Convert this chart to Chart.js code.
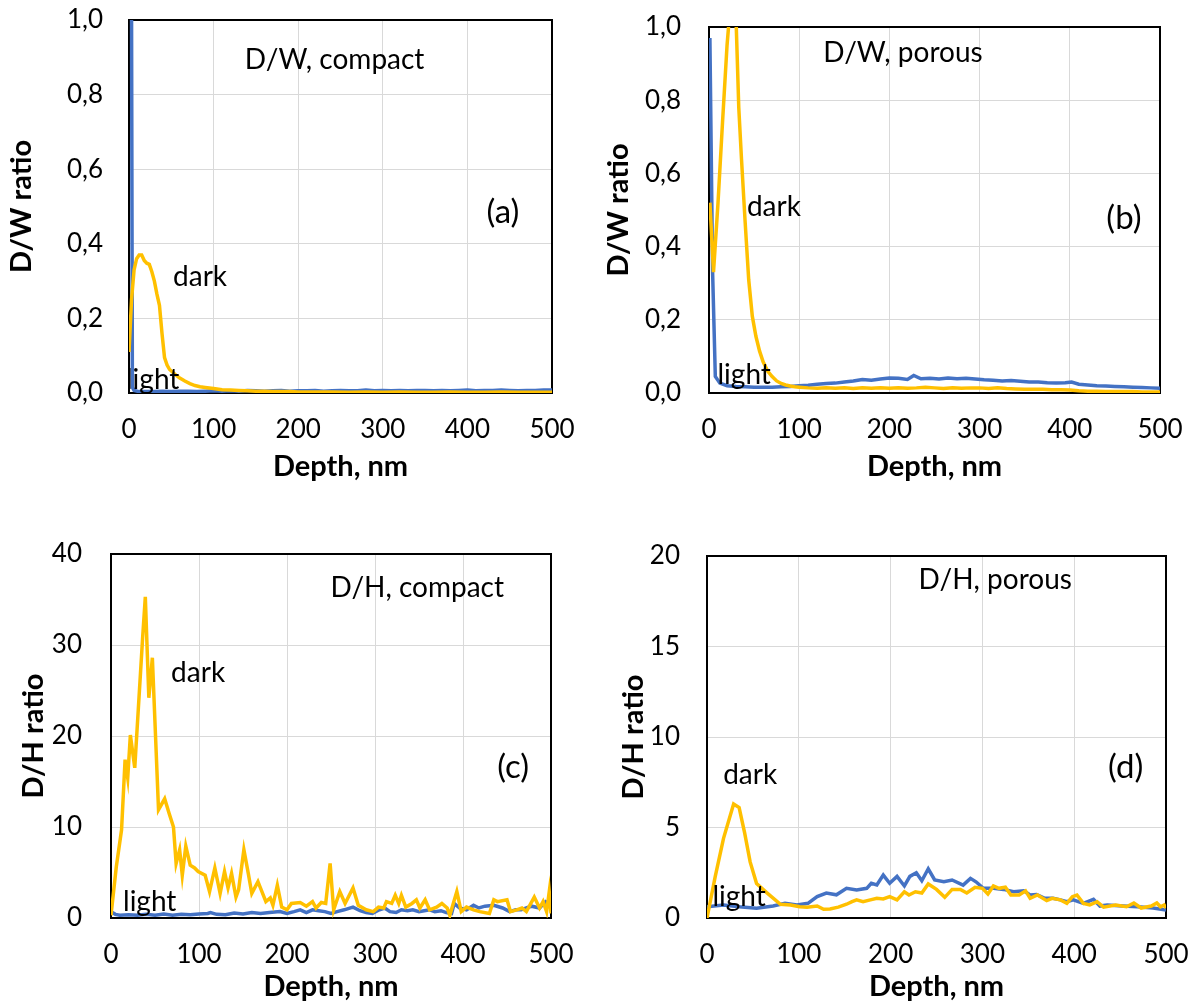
<!DOCTYPE html>
<html lang="en">
<head>
<meta charset="UTF-8">
<title>D/W and D/H ratio vs depth</title>
<script src="https://cdn.jsdelivr.net/npm/chart.js"></script>
<style>
  body{margin:0;background:#fff;}
  .panel{position:absolute;width:597px;height:501px;}
</style>
</head>
<body>
<div class="panel" style="left:0;top:0"><canvas id="chartA" width="597" height="501"></canvas></div>
<div class="panel" style="left:597px;top:0"><canvas id="chartB" width="597" height="501"></canvas></div>
<div class="panel" style="left:0;top:501px"><canvas id="chartC" width="597" height="501"></canvas></div>
<div class="panel" style="left:597px;top:501px"><canvas id="chartD" width="597" height="501"></canvas></div>
<script>
// ---- data (depth in nm) ----
// (a) D/W, compact
const aDarkDepth = [0,3,6,9,12,15,18,21,24,27,30,33,36,39,42,45,48,52,56,60,66,72,78,84,90,100,110,120,130,140,150,160,170,180,190,200,220,240,260,280,300,320,340,360,380,400,420,440,460,480,500];
const aDarkRatio = [0.11,0.25,0.33,0.36,0.37,0.37,0.355,0.348,0.345,0.325,0.3,0.265,0.235,0.16,0.095,0.075,0.063,0.055,0.047,0.04,0.032,0.025,0.02,0.017,0.015,0.012,0.009,0.008,0.007,0.006,0.005,0.005,0.004,0.004,0.004,0.003,0.003,0.003,0.002,0.003,0.002,0.003,0.002,0.002,0.003,0.002,0.002,0.003,0.002,0.002,0.002];
const aLightDepth = [3,4,6,10,20,30,40,50,60,70,80,90,100,110,120,130,140,150,160,170,180,190,200,210,220,230,240,250,260,270,280,290,300,310,320,330,340,350,360,370,380,390,400,410,420,430,440,450,460,470,480,490,500];
const aLightRatio = [1.02,0.015,0.007,0.005,0.004,0.004,0.005,0.004,0.005,0.005,0.004,0.005,0.006,0.005,0.006,0.005,0.007,0.006,0.005,0.006,0.007,0.005,0.006,0.006,0.007,0.005,0.006,0.007,0.006,0.006,0.008,0.006,0.007,0.006,0.007,0.006,0.007,0.007,0.006,0.007,0.006,0.007,0.008,0.006,0.007,0.007,0.008,0.007,0.006,0.007,0.007,0.008,0.008];

// (b) D/W, porous
const bDarkDepth = [1,5,10,15,20,25,30,33,36,40,44,48,52,56,60,65,70,75,80,85,90,95,100,110,120,130,140,150,160,170,180,190,200,210,220,230,240,250,260,270,280,290,300,310,320,330,340,350,360,370,380,390,400,410,420,430,440,450,460,470,480,490,500];
const bDarkRatio = [0.52,0.33,0.52,0.74,0.95,1.1,1.02,0.78,0.64,0.47,0.31,0.21,0.155,0.115,0.085,0.06,0.045,0.033,0.026,0.022,0.019,0.017,0.016,0.014,0.013,0.014,0.013,0.014,0.012,0.014,0.013,0.014,0.013,0.014,0.013,0.014,0.016,0.014,0.012,0.014,0.013,0.014,0.014,0.012,0.014,0.012,0.011,0.01,0.01,0.01,0.009,0.009,0.008,0.006,0.005,0.005,0.004,0.004,0.004,0.004,0.003,0.003,0.003];
const bLightDepth = [1,4,7,12,20,30,40,50,60,70,80,90,100,110,120,130,140,150,160,170,180,190,200,210,220,227,235,245,255,265,275,285,295,305,315,325,335,345,355,365,375,385,395,402,410,420,430,440,450,460,470,480,490,500];
const bLightRatio = [0.97,0.33,0.045,0.027,0.02,0.018,0.017,0.016,0.016,0.016,0.017,0.018,0.02,0.021,0.024,0.026,0.027,0.03,0.033,0.037,0.035,0.038,0.041,0.04,0.037,0.048,0.039,0.04,0.038,0.041,0.039,0.04,0.038,0.036,0.035,0.033,0.034,0.032,0.03,0.03,0.028,0.027,0.028,0.03,0.024,0.022,0.02,0.019,0.018,0.017,0.016,0.015,0.014,0.013];

// (c) D/H, compact
const cDarkDepth = [0,6,12,16,19,22,27,31,36,39,43,47,54,61,66,71,74,78,81,85,90,95,99,107,112,118,124,129,133,137,142,145,151,156,160,167,176,181,184,189,194,200,205,215,222,229,233,239,244,249,253,260,266,275,281,290,298,304,310,313,319,323,327,330,335,342,347,351,357,362,370,376,382,385,393,398,404,412,419,430,435,439,450,454,461,467,472,481,487,491,495,498,500];
const cDarkRatio = [0.3,5.6,9.7,17.4,15.4,20.1,16.5,22.9,30.9,35.3,24.2,28.6,11.9,13.1,11.5,10.0,6.0,7.5,4.7,7.9,5.8,5.5,5.1,4.7,2.9,5.5,2.7,5.1,3.3,4.9,2.3,3.1,7.5,4.9,2.7,4.0,1.8,2.2,1.4,3.6,1.2,0.9,1.6,1.7,1.3,1.8,1.1,1.7,1.6,6.0,0.9,2.9,1.6,3.3,1.4,0.9,0.7,1.2,1.1,1.8,1.6,2.5,1.6,2.5,1.2,1.6,2.0,1.1,2.0,0.9,1.2,1.6,1.1,0.3,2.9,0.7,1.2,0.9,0.7,0.5,2.0,1.8,2.0,0.7,0.9,1.1,0.7,2.3,1.1,1.8,0.7,2.9,0.5];
const cLightDepth = [0,5,10,20,30,40,50,60,70,80,90,100,110,113,120,130,140,150,160,170,180,192,200,208,215,222,229,236,243,250,257,265,275,283,290,297,305,311,317,324,330,337,343,350,356,362,368,375,381,387,390,396,404,412,418,425,435,445,453,460,466,472,478,487,494,500];
const cLightRatio = [0.7,0.4,0.3,0.35,0.3,0.4,0.3,0.45,0.3,0.4,0.35,0.45,0.5,0.6,0.4,0.35,0.55,0.45,0.6,0.5,0.6,0.7,0.5,0.7,0.9,0.6,0.9,0.8,0.7,0.5,0.7,0.9,1.2,0.8,0.6,0.5,0.9,1.1,0.7,0.6,0.9,0.8,0.9,0.7,0.8,0.9,0.7,0.8,0.6,0.5,1.6,1.1,0.9,1.4,1.1,1.3,1.4,1.1,0.7,0.9,0.9,1.1,1.3,1.1,1.8,1.5];

// (d) D/H, porous
const dDarkDepth = [0,9,18,29,35,41,47,54,65,80,91,101,109,120,127,134,143,152,158,163,170,178,185,192,199,207,215,220,227,234,241,250,259,267,276,283,292,300,306,312,318,325,331,340,347,352,360,370,376,385,392,398,403,410,417,425,432,445,457,465,473,484,490,494,498,500];
const dDarkRatio = [0,2.3,4.4,6.3,6.1,4.7,3.1,1.9,1.4,0.76,0.72,0.62,0.59,0.66,0.48,0.5,0.6,0.76,0.9,1.0,0.9,1.0,1.09,1.05,1.18,1.0,1.45,1.27,1.45,1.38,1.88,1.58,1.14,1.58,1.58,1.38,1.7,1.64,1.33,1.77,1.64,1.7,1.27,1.27,1.5,1.09,1.27,0.96,1.09,1.0,0.81,1.18,1.27,0.81,0.72,0.9,0.6,0.72,0.62,0.83,0.55,0.66,0.83,0.62,0.72,0.55];
const dLightDepth = [0,18,35,54,72,85,98,110,120,130,141,152,163,174,179,185,192,199,207,215,221,228,234,241,248,258,267,279,287,293,301,312,323,334,345,352,359,368,377,385,392,399,410,421,428,436,453,469,486,500];
const dLightRatio = [0.62,0.72,0.62,0.54,0.66,0.81,0.72,0.81,1.18,1.38,1.28,1.64,1.55,1.64,1.92,1.83,2.37,1.92,2.3,1.77,2.3,2.5,2.06,2.72,2.1,2.0,2.1,1.82,2.19,2.0,1.64,1.64,1.58,1.45,1.5,1.27,1.3,1.09,1.09,1.0,0.9,1.0,0.81,1.03,0.66,0.72,0.66,0.62,0.55,0.44];

const depthTicks = [0,100,200,300,400,500];

const BLUE = '#4472C4';
const GOLD = '#FFC000';
const GRID = '#d9d9d9';

Chart.defaults.font.family = 'Lato, "Noto Sans", sans-serif';
Chart.defaults.color = '#000';
Chart.defaults.animation = false;

function pts(xs, ys){ return xs.map((x, i) => ({x: x, y: ys[i]})); }

// black box round the plot area + text notes placed in data units
const boxAndNotes = {
  id: 'boxAndNotes',
  beforeDatasetsDraw(chart){
    const {ctx, chartArea: {left, top, width, height}} = chart;
    ctx.save();
    ctx.strokeStyle = '#000';
    ctx.lineWidth = 2;
    ctx.strokeRect(left, top, width, height);
    ctx.restore();
  },
  afterDatasetsDraw(chart, args, opts){
    const {ctx, scales: {x, y}} = chart;
    ctx.save();
    ctx.fillStyle = '#000';
    ctx.textAlign = 'center';
    ctx.textBaseline = 'middle';
    (opts.notes || []).forEach(n => {
      ctx.font = (n.size || 28) + 'px Lato, "Noto Sans", sans-serif';
      ctx.fillText(n.text, x.getPixelForValue(n.x), y.getPixelForValue(n.y));
    });
    ctx.restore();
  }
};

function makePanel(id, p){
  return new Chart(document.getElementById(id), {
    type: 'line',
    data: {
      datasets: [
        {label: 'dark', data: pts(p.darkX, p.darkY), borderColor: GOLD, borderWidth: 3.5, pointRadius: 0, tension: 0, fill: false},
        {label: 'light', data: pts(p.lightX, p.lightY), borderColor: BLUE, borderWidth: 3.5, pointRadius: 0, tension: 0, fill: false}
      ]
    },
    options: {
      responsive: false,
      events: [],
      layout: {padding: {left: 0, top: p.top, right: p.right, bottom: 0}},
      plugins: {
        legend: {display: false},
        tooltip: {enabled: false},
        boxAndNotes: {notes: p.notes}
      },
      scales: {
        x: {
          type: 'linear', min: 0, max: 500,
          afterBuildTicks(s){ s.ticks = depthTicks.map(v => ({value: v})); },
          ticks: {padding: 21, font: {size: 26, lineHeight: 1.2}, maxRotation: 0, autoSkip: false},
          grid: {color: GRID, lineWidth: 1, drawTicks: false},
          border: {display: false},
          title: {display: true, text: 'Depth, nm', font: {size: 29, weight: 'bold', lineHeight: 1}, padding: {top: 0, bottom: p.xTitlePad}},
          afterFit(s){ s.height = p.xHeight; s.paddingLeft = 0; s.paddingRight = 0; }
        },
        y: {
          type: 'linear', min: 0, max: p.yMax,
          ticks: {stepSize: p.yStep, padding: p.yTickPad, font: {size: 26, lineHeight: 1.2}, callback: p.yFmt},
          grid: {color: GRID, lineWidth: 1, drawTicks: false},
          border: {display: false},
          title: {display: true, text: p.yTitle, font: {size: 29, weight: 'bold', lineHeight: 1}, padding: {top: p.yTitlePad, bottom: 0}},
          afterFit(s){ s.width = p.yWidth; s.paddingTop = 0; s.paddingBottom = 0; }
        }
      }
    },
    plugins: [boxAndNotes]
  });
}

const commaFmt = v => v.toFixed(1).replace('.', ',');
const intFmt = v => String(Math.round(v));

makePanel('chartA', {
  darkX: aDarkDepth, darkY: aDarkRatio, lightX: aLightDepth, lightY: aLightRatio,
  yMax: 1, yStep: 0.2, yFmt: commaFmt, yTitle: 'D/W ratio',
  top: 20, right: 45, xHeight: 108, yWidth: 129, yTickPad: 26, yTitlePad: 7.5, xTitlePad: 19.5,
  notes: [
    {text: 'D/W, compact', x: 243, y: 0.893},
    {text: '(a)', x: 442, y: 0.485, size: 33},
    {text: 'dark', x: 84, y: 0.311},
    {text: 'light', x: 28, y: 0.035}
  ]
});

makePanel('chartB', {
  darkX: bDarkDepth, darkY: bDarkRatio, lightX: bLightDepth, lightY: bLightRatio,
  yMax: 1, yStep: 0.2, yFmt: commaFmt, yTitle: 'D/W ratio',
  top: 27, right: 34, xHeight: 108, yWidth: 112, yTickPad: 28, yTitlePad: 7.5, xTitlePad: 19.5,
  notes: [
    {text: 'D/W, porous', x: 215, y: 0.929},
    {text: '(b)', x: 460, y: 0.478, size: 33},
    {text: 'dark', x: 72, y: 0.508},
    {text: 'light', x: 39, y: 0.049}
  ]
});

makePanel('chartC', {
  darkX: cDarkDepth, darkY: cDarkRatio, lightX: cLightDepth, lightY: cLightRatio,
  yMax: 40, yStep: 10, yFmt: intFmt, yTitle: 'D/H ratio',
  top: 53, right: 46, xHeight: 84, yWidth: 111, yTickPad: 29, yTitlePad: 19.5, xTitlePad: 0.5,
  notes: [
    {text: 'D/H, compact', x: 348, y: 36.3},
    {text: '(c)', x: 457, y: 16.5, size: 33},
    {text: 'dark', x: 99, y: 26.9},
    {text: 'light', x: 44, y: 1.76}
  ]
});

makePanel('chartD', {
  darkX: dDarkDepth, darkY: dDarkRatio, lightX: dLightDepth, lightY: dLightRatio,
  yMax: 20, yStep: 5, yFmt: intFmt, yTitle: 'D/H ratio',
  top: 55, right: 28, xHeight: 84, yWidth: 110, yTickPad: 27, yTitlePad: 22.5, xTitlePad: 0.5,
  notes: [
    {text: 'D/H, porous', x: 314, y: 18.7},
    {text: '(d)', x: 456, y: 8.3, size: 33},
    {text: 'dark', x: 47, y: 7.9},
    {text: 'light', x: 35, y: 1.16}
  ]
});
</script>
</body>
</html>
